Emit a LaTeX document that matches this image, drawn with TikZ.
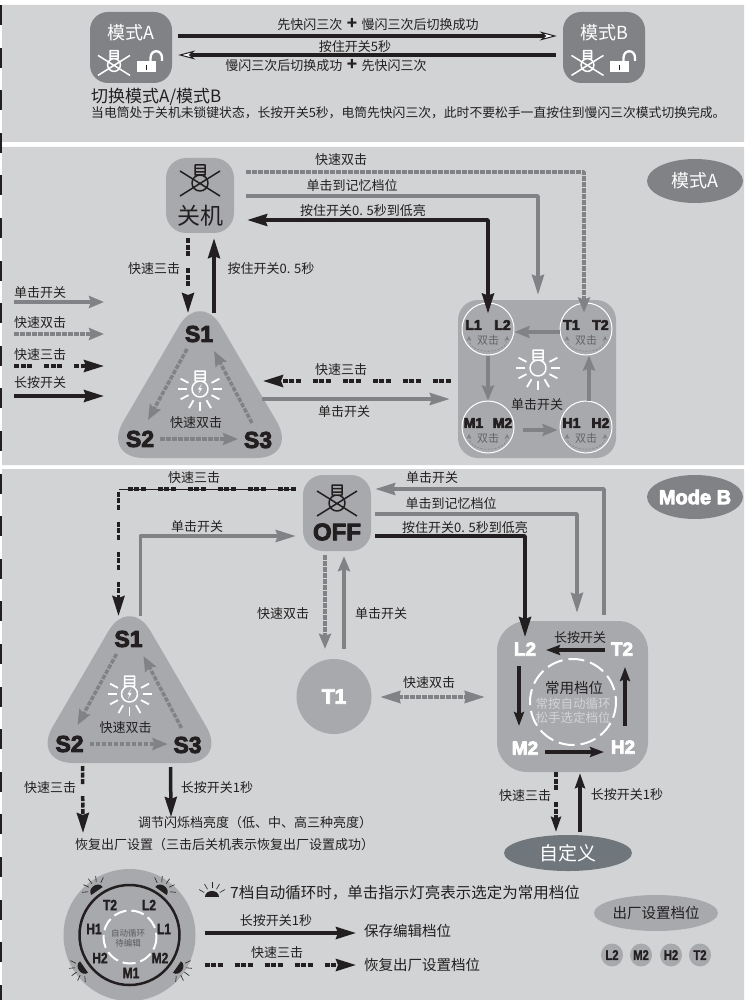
\documentclass[tikz,border=0pt]{standalone}
\usepackage{fontspec}
\setmainfont{Noto Sans CJK SC}
\newfontfamily\heavyfont[FakeBold=4]{Liberation Sans Bold}
\newfontfamily\narrowfont[FakeBold=1.5,FakeStretch=.8]{Liberation Sans Bold}
\usetikzlibrary{arrows.meta,shapes.geometric}
\definecolor{panelgray}{HTML}{D1D3D4}
\definecolor{boxgray}{HTML}{A7A9AC}
\definecolor{darkgray}{HTML}{808285}
\definecolor{ovalgray}{HTML}{6F767C}
\definecolor{ink}{HTML}{231F20}
\newcommand{\fs}[1]{\fontsize{#1}{#1}\selectfont}
\tikzset{
	lab/.style={font=\fs{13},text=ink,inner sep=0pt},
	heavy/.style={font=\fs{#1}\heavyfont,inner sep=0pt},
	thin label/.style={font=\fs{#1}\narrowfont,text=ink,inner sep=0pt},
	box/.style={fill=boxgray,inner sep=0pt},
	grayline/.style={draw=darkgray,line width=3.5pt,-{Stealth[length=15pt,width=12pt,inset=2pt]}},
	graylong/.style={grayline,-{Stealth[length=20pt,width=12pt,inset=2pt]}},
	graydash/.style={grayline,dash pattern=on 4.5pt off 1.5pt},
	blackline/.style={draw=ink,line width=3.5pt,-{Stealth[length=20pt,width=12pt,inset=2pt]}},
	blackdash/.style={blackline,dash pattern=on 5pt off 1.5pt on 5pt off 1.5pt on 5pt off 12pt},
	openhead/.style={draw=ink,line width=4pt,-{Stealth[length=17pt,width=9pt,inset=5pt,line width=1pt,fill=white]}},
	dblarc/.style={draw=darkgray,line width=.6pt,dash pattern=on 2pt off 1.5pt,{Stealth[length=5pt,width=5pt]}-{Stealth[length=5pt,width=5pt]}},
	pics/bulboff/.style={code={
		\draw[#1,line width=1.5pt] (0,0) circle (8) (-5,-8) rectangle (5,-18) (-5,-14.5)--(5,-14.5) (-5,-11)--(5,-11);
		\draw[#1,line width=1.5pt] (-20,-12)--(20,13) (-20,13)--(20,-12);
	}},
	pics/bulbon/.style={code={
		\draw[white,line width=1.5pt] (0,0) circle (8) (-5,-8) rectangle (5,-18) (-5,-14.5)--(5,-14.5) (-5,-11)--(5,-11);
		\foreach \a in {0,-28,28,60,90,120,152,180,208} \draw[white,line width=1.8pt] (\a:13)--(\a:22);
		#1
	}},
	pics/lockopen/.style={code={
		\fill[white] (-9.5,-5.5) rectangle (9.5,5.5);
		\draw[white,line width=2.3pt] (4,-5.5)--(4,-9) .. controls (4,-18) and (15.5,-18) .. (15.5,-9)--(15.5,-6);
		\draw[ink,line width=.7pt] (0,3)--(0,-2);
	}},
	pics/litdome/.style={code={
		\fill[ink] (-7,0) .. controls (-7,-8) and (7,-8) .. (7,0)--cycle;
		\foreach \a in {-150,-120,-90,-60,-30} \draw[ink,line width=.6pt] (\a:9)--(\a:15);
	}},
	pics/modetri/.style={code={
		\fill[boxgray,rounded corners=42pt] (-98,0)--(0,-168)--(98,0)--cycle;
		\node[heavy=23,text=ink] (S1) at (-1,-124) {S1};
		\node[heavy=23,text=ink] (S2) at (-60,-19) {S2};
		\node[heavy=23,text=ink] (S3) at (58,-18) {S3};
		\node[lab] (dbl) at (-4,-35) {快速双击};
		\pic at (0,-69) {bulbon={\fill[white] (1.5,-5)--(-2,.5)--(0,.5)--(-1.5,5)--(2.2,-1)--(0,-1)--cycle;}};
		\draw[graydash] ([shift={(-12,15)}]S1.center)--([shift={(8,-19)}]S2.center);
		\draw[graydash] ([shift={(-6,-17)}]S3.center)--([shift={(15,17)}]S1.center);
		\draw[graydash] ([shift={(20,0)}]S2.center)--([shift={(-20,-1)}]S3.center);
	}},
}
\begin{document}
\begin{tikzpicture}[x=1pt,y=-1pt,line join=round]
	\useasboundingbox (0,0) rectangle (744,1000);
	\fill[white] (0,0) rectangle (744,1000);
	\fill[panelgray] (2,5) rectangle (744,142) (2,147) rectangle (744,465) (2,469) rectangle (744,1000);
	\foreach \k in {0,...,23} \fill[ink] (0,{5+42.6*\k}) rectangle (1.5,{25+42.6*\k});

	% switching between the two modes
	\node[box,fill=darkgray,minimum width=82pt,minimum height=71pt,rounded corners=18pt] (modeA) at (131,47.5) {};
	\node[box,fill=darkgray,minimum width=82pt,minimum height=71pt,rounded corners=18pt] (modeB) at (604,47.5) {};
	\node[lab,font=\fs{18},text=white] (modeAname) at (131,33) {模式A};
	\node[lab,font=\fs{18},text=white] (modeBname) at (604,33) {模式B};
	\pic[scale=.8] at (114,65) {bulboff=white};
	\pic[scale=.8] at (587.5,65) {bulboff=white};
	\pic at (146.5,67) {lockopen};
	\pic at (619.5,67) {lockopen};
	\draw[openhead] ([shift={(6,-11.5)}]modeA.east)--([shift={(-6,-11.5)}]modeB.west);
	\draw[openhead] ([shift={(-7,7.5)}]modeB.west)--([shift={(6,7.5)}]modeA.east);
	\node[lab] (swOne) at (378,25) {先快闪三次\,\,\textbf{\fs{17}+}\,\,慢闪三次后切换成功};
	\node[lab] (swHold) at (355,47) {按住开关5秒};
	\node[lab] (swTwo) at (326,66) {慢闪三次后切换成功\,\,\textbf{\fs{17}+}\,\,先快闪三次};
	\node[lab,font=\fs{17},anchor=west] (swTitle) at (91,97) {切换模式A/模式B};
	\node[lab,font=\fs{12.8},anchor=west] (swNote) at (91,113) {当电筒处于关机未锁键状态，长按开关5秒，电筒先快闪三次，此时不要松手一直按住到慢闪三次模式切换完成。};

	% mode A
	\node[box,minimum width=68pt,minimum height=75pt,rounded corners=20pt] (offA) at (200,195.5) {};
	\pic at (200,183) {bulboff=ink};
	\node[lab,font=\fs{23}] (offAname) at (200,216) {关机};
	\node[fill=darkgray,ellipse,minimum width=96pt,minimum height=44pt,inner sep=0pt] (ovalA) at (695,181) {};
	\node[lab,font=\fs{18},text=white] (ovalAname) at (695,181) {模式A};
	\pic (ta) at (200,458) {modetri};
	\node[box,minimum width=158pt,minimum height=158pt,rounded corners=20pt] (sqA) at (537,379) {};
	\foreach \nm/\cx/\cy/\pa/\pb in {lCirc/488/329/L1/L2,tCirc/586/329/T1/T2,mCirc/488/427/M1/M2,hCirc/586/427/H1/H2}{
		\node[circle,draw=white,line width=1pt,fill=boxgray,minimum size=52pt,inner sep=0pt] (\nm) at (\cx,\cy) {};
		\node[heavy=14,text=ink] (\nm a) at (\cx-14.5,\cy-4) {\pa};
		\node[heavy=14,text=ink] (\nm b) at (\cx+14.5,\cy-4) {\pb};
		\node[lab,font=\fs{11},text=darkgray!70!ink] (\nm c) at (\cx,\cy+11) {双击};
		\draw[dblarc] ([shift={(-19,7)}]\nm.center) to[out=-90,in=-90,looseness=1.3] ([shift={(19,7)}]\nm.center);
	}
	\pic at (538,368) {bulbon={}};
	\node[lab] (sqAlab) at (537,405) {单击开关};
	\draw[grayline] ([shift={(0,3)}]tCirc.west)--([shift={(0,3)}]lCirc.east);
	\draw[grayline] (lCirc.south)--(mCirc.north);
	\draw[grayline] ([shift={(8,3)}]mCirc.east)--([shift={(-2,3)}]hCirc.west);
	\draw[grayline] ([shift={(3,0)}]hCirc.north)--([shift={(3,0)}]tCirc.south);

	\draw[graydash] ([shift={(12,-23.5)}]offA.east) -| ([shift={(-2,10)}]tCirc.north);
	\draw[graylong] ([shift={(12,.5)}]offA.east) -| ([shift={(1,-5)}]sqA.north);
	\draw[blackline,{Stealth[length=20pt,width=12pt,inset=2pt]}-{Stealth[length=20pt,width=12pt,inset=2pt]}] ([shift={(13,24.5)}]offA.east) -| ([shift={(0,11)}]lCirc.north);
	\draw[blackdash] ([shift={(-12,5)}]offA.south)--([shift={(-11,-21)}]taS1.center);
	\draw[blackline] ([shift={(15,-21)}]taS1.center)--([shift={(14,5)}]offA.south);
	\draw[blackdash] ([shift={(-7,2)}]sqA.west)--([shift={(5,-59)}]taS3.center);
	\draw[graylong] ([shift={(4,-41)}]taS3.center)--([shift={(-8,20)}]sqA.west);
	\node[lab] (aDbl) at (341,160) {快速双击};
	\node[lab] (aMem) at (352,186) {单击到记忆档位};
	\node[lab] (aHold) at (363,211) {按住开关0. 5秒到低亮};
	\node[lab] (aTriple) at (154,269) {快速三击};
	\node[lab] (aHoldS) at (271,269) {按住开关0. 5秒};
	\node[lab] (aBack) at (341,370) {快速三击};
	\node[lab] (aClick) at (344,412) {单击开关};

	% legend
	\node[lab,anchor=west] (legOne) at (14,293) {单击开关};
	\node[lab,anchor=west] (legTwo) at (14,323) {快速双击};
	\node[lab,anchor=west] (legThree) at (14,355) {快速三击};
	\node[lab,anchor=west] (legFour) at (14,383) {长按开关};
	\draw[grayline] ([shift={(0,9)}]legOne.west)--+(90,0);
	\draw[graydash] ([shift={(0,11)}]legTwo.west)--+(90,0);
	\draw[blackdash] ([shift={(0,11)}]legThree.west)--+(90,0);
	\draw[blackline] ([shift={(0,13)}]legFour.west)--+(90,0);

	% mode B
	\node[box,minimum width=68pt,minimum height=76pt,rounded corners=20pt] (offB) at (337,513) {};
	\pic at (337,503) {bulboff=ink};
	\node[heavy=24,text=ink] (offBname) at (337,532) {OFF};
	\node[fill=darkgray,ellipse,minimum width=96pt,minimum height=44pt,inner sep=0pt] (ovalB) at (695,497) {};
	\node[heavy=20,text=white] (ovalBname) at (695,497) {Mode B};
	\pic (tb) at (129.5,763) {modetri};
	\node[circle,fill=boxgray,minimum size=75pt,inner sep=0pt] (t1B) at (334,696.5) {};
	\node[heavy=21,text=white] (t1Bname) at (334,696.5) {T1};
	\node[box,minimum width=151pt,minimum height=151pt,rounded corners=30pt] (sqB) at (572.5,696.5) {};
	\node[fill=ovalgray,ellipse,minimum width=128pt,minimum height=36pt,inner sep=0pt] (cust) at (568,853) {};
	\node[lab,font=\fs{19},text=white] (custname) at (568,853) {自定义};
	\node[heavy=19,text=white] (bL) at (525,649) {L2};
	\node[heavy=19,text=white] (bT) at (622,649) {T2};
	\node[heavy=19,text=white] (bM) at (525,748) {M2};
	\node[heavy=19,text=white] (bH) at (623,747) {H2};
	\draw[white,line width=2pt,dash pattern=on 16pt off 6pt] (573,702) circle (43);
	\draw[blackline,-{Stealth[length=14pt,width=10pt,inset=2pt]}] ([shift={(-17,1)}]bT.center)--([shift={(21,1)}]bL.center);
	\draw[blackline,-{Stealth[length=14pt,width=10pt,inset=2pt]}] ([shift={(-6,17)}]bL.center)--([shift={(-6,-22)}]bM.center);
	\draw[blackline,-{Stealth[length=14pt,width=10pt,inset=2pt]}] ([shift={(20,4)}]bM.center)--([shift={(-19,5)}]bH.center);
	\draw[blackline,-{Stealth[length=14pt,width=10pt,inset=2pt]}] ([shift={(2,-21)}]bH.center)--([shift={(3,18)}]bT.center);
	\node[lab] (bLong) at (580,638) {长按开关};
	\node[lab,font=\fs{14.5}] (bCommon) at (574,688) {常用档位};
	\node[lab,text=panelgray,font=\fs{12.5}] (bAuto) at (573,704) {常按自动循环};
	\node[lab,text=panelgray,font=\fs{12.5}] (bPick) at (573,718) {松手选定档位};

	\coordinate (offBl) at ([shift={(-7,-24)}]offB.west);
	\coordinate (tbEntry) at ([shift={(-10,-23)}]tbS1.center);
	\draw[ink,line width=.6pt] (offBl)--(offBl -| tbEntry);
	\draw[blackdash] (offBl) -| (tbEntry);
	\draw[graylong] ([shift={(12,-23)}]tbS1.center) |- ([shift={(-7,23)}]offB.west);
	\draw[graydash] ([shift={(-12,4)}]offB.south)--([shift={(-9,-10)}]t1B.north);
	\draw[grayline] ([shift={(10,-10)}]t1B.north)--([shift={(7,5)}]offB.south);
	\draw[graylong] ([shift={(31.5,-6)}]sqB.north) |- ([shift={(4,-24)}]offB.east);
	\draw[graylong] ([shift={(4,1)}]offB.east) -| ([shift={(4.5,-8)}]sqB.north);
	\draw[blackline] ([shift={(4,23)}]offB.east) -| ([shift={(0,-12)}]bL.center);
	\draw[graydash,{Stealth[length=20pt,width=12pt,inset=1pt]}-{Stealth[length=20pt,width=12pt,inset=1pt]}] ([shift={(8.5,.5)}]t1B.east)--([shift={(-12,.5)}]sqB.west);
	\draw[blackdash,-{Stealth[length=15pt,width=10pt,inset=2pt]}] ([shift={(-16.5,0)}]sqB.south)--([shift={(-12,-3)}]cust.north);
	\draw[blackline,-{Stealth[length=15pt,width=10pt,inset=2pt]}] ([shift={(12,-3)}]cust.north)--([shift={(7.5,1)}]sqB.south);
	\node[lab] (bTripleTop) at (194,478) {快速三击};
	\node[lab] (bClickTop) at (197,527) {单击开关};
	\node[lab] (bDbl) at (283,614) {快速双击};
	\node[lab] (bClick) at (381,614) {单击开关};
	\node[lab] (bDblSide) at (429,683) {快速双击};
	\node[lab] (bClickR) at (432,478) {单击开关};
	\node[lab] (bMem) at (451,504) {单击到记忆档位};
	\node[lab] (bHold) at (465,528) {按住开关0. 5秒到低亮};
	\node[lab] (bTripleR) at (525,796) {快速三击};
	\node[lab] (bLongR) at (627,795) {长按开关1秒};
	\node[lab] (bTripleL) at (50,788) {快速三击};
	\node[lab] (bLongL) at (217,788) {长按开关1秒};
	\node[lab,anchor=west] (adj) at (138,823) {调节闪烁档亮度（低、中、高三种亮度）};
	\node[lab,anchor=west] (reset) at (75,845) {恢复出厂设置（三击后关机表示恢复出厂设置成功）};
	\draw[blackdash] ([shift={(13,22)}]tbS2.center)--([shift={(8,-12)}]reset.west);
	\draw[blackline] ([shift={(-17,22)}]tbS3.center)--([shift={(33,-6)}]adj.west);

	% editing
	\node[fill=boxgray,circle,minimum size=132pt,inner sep=0pt] (ring) at (129.5,935) {};
	\draw[ink,line width=2.5pt] (ring.center) circle (50);
	\draw[white,line width=2pt,dash pattern=on 13pt off 5pt] (130,937) circle (26.5);
	\foreach \nm/\cx/\cy/\tx in {rT/110/905/T2,rL/149/905/L2,rHa/94/929/H1,rLa/164/929/L1,rHb/100/958/H2,rMb/160/958/M2,rMa/131/973/M1}
		\node[thin label=15] (\nm) at (\cx,\cy) {\tx};
	\node[lab,font=\fs{8.5},text=darkgray!60!ink] (ringA) at (128,933) {自动循环};
	\node[lab,font=\fs{8.5},text=darkgray!60!ink] (ringB) at (128,943) {待编辑};
	\pic[rotate=35] at (97,891) {litdome};
	\pic[rotate=-35] at (161,891) {litdome};
	\pic[rotate=125] at (84,967) {litdome};
	\pic[rotate=-125] at (177,967) {litdome};
	\pic at (212,897) {litdome};
	\node[lab,font=\fs{15.5},anchor=west] (ringNote) at (230,893) {7档自动循环时，单击指示灯亮表示选定为常用档位};
	\node[lab] (ringLong) at (276,921) {长按开关1秒};
	\node[lab] (ringTri) at (277,953) {快速三击};
	\node[lab,font=\fs{14.5},anchor=west] (keepLab) at (364,931) {保存编辑档位};
	\node[lab,font=\fs{14.5},anchor=west] (restoreLab) at (364,965) {恢复出厂设置档位};
	\draw[blackline] ([shift={(9,-2)}]ring.east)--([shift={(-8,2)}]keepLab.west);
	\draw[blackdash] ([shift={(9,30)}]ring.east)--([shift={(-8,0)}]restoreLab.west);
	\node[fill=boxgray,ellipse,minimum width=124pt,minimum height=36pt,inner sep=0pt] (factory) at (656,913) {};
	\node[lab,font=\fs{14.5}] (factoryname) at (656,913) {出厂设置档位};
	\foreach \nm/\cx/\tx in {fL/612/L2,fM/641/M2,fH/671/H2,fT/700/T2}{
		\node[fill=boxgray,ellipse,minimum width=22pt,minimum height=23pt,inner sep=0pt] (\nm) at (\cx,955) {};
		\node[thin label=14] (\nm t) at (\cx,955) {\tx};
	}
\end{tikzpicture}
\end{document}
